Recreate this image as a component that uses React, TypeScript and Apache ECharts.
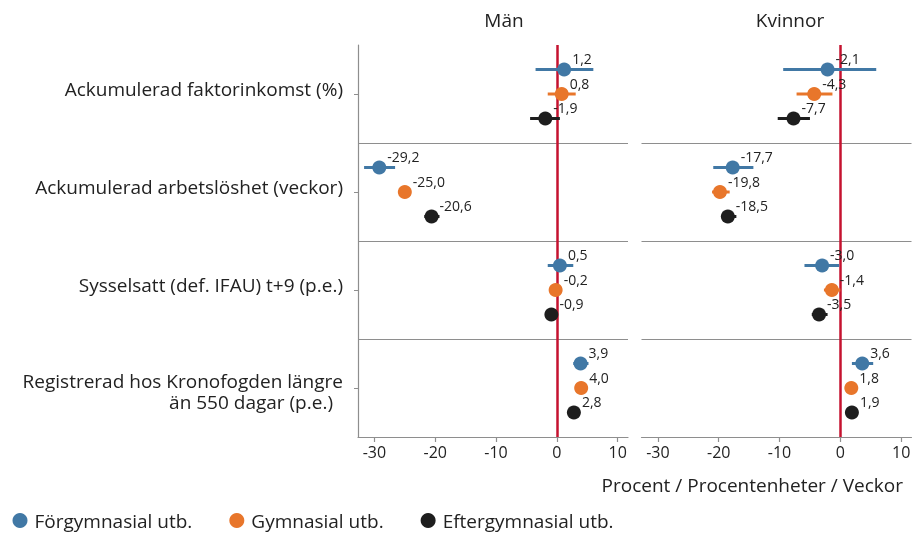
import React, { useEffect, useRef } from "react";
import * as echarts from "echarts";

const categories = [
  "Ackumulerad faktorinkomst (%)",
  "Ackumulerad arbetslöshet (veckor)",
  "Sysselsatt (def. IFAU) t+9 (p.e.)",
  "Registrerad hos Kronofogden längre\nän 550 dagar (p.e.)",
];
const panels = ["Män", "Kvinnor"];
const levelNames = ["Förgymnasial utb.", "Gymnasial utb.", "Eftergymnasial utb."];
const xTicks = [-30, -20, -10, 0, 10];

// Män
const menPre = [1.2, -29.2, 0.5, 3.9];
const menPreLo = [-3.5, -31.7, -1.5, 2.7];
const menPreHi = [6.0, -26.6, 2.7, 5.2];
const menGym = [0.8, -25.0, -0.2, 4.0];
const menGymLo = [-1.5, -25.8, -0.9, 3.2];
const menGymHi = [3.1, -24.2, 0.5, 4.8];
const menPost = [-1.9, -20.6, -0.9, 2.8];
const menPostLo = [-4.4, -21.8, -1.6, 2.1];
const menPostHi = [0.5, -19.3, -0.2, 3.5];

// Kvinnor
const womPre = [-2.1, -17.7, -3.0, 3.6];
const womPreLo = [-9.4, -20.9, -5.9, 1.9];
const womPreHi = [5.9, -14.3, -0.2, 5.4];
const womGym = [-4.3, -19.8, -1.4, 1.8];
const womGymLo = [-7.2, -21.1, -2.7, 1.1];
const womGymHi = [-1.3, -18.2, 0.0, 2.5];
const womPost = [-7.7, -18.5, -3.5, 1.9];
const womPostLo = [-10.3, -19.6, -4.7, 1.2];
const womPostHi = [-5.0, -17.1, -2.1, 2.6];

const FONT = "Open Sans";
const COLORS = ["#4178a5", "#e8762b", "#1e1e1e"];
const GRAY = "#8e8e8e";
const RED = "#c5122f";

const fmt = (v: number) => v.toFixed(1).replace(".", ",");

export default function App() {
  const ref = useRef<HTMLDivElement>(null);
  useEffect(() => {
    if (!ref.current) return;
    const chart = echarts.init(ref.current, undefined, { renderer: "svg" });

    const panelData = [
      [
        [menPre, menPreLo, menPreHi],
        [menGym, menGymLo, menGymHi],
        [menPost, menPostLo, menPostHi],
      ],
      [
        [womPre, womPreLo, womPreHi],
        [womGym, womGymLo, womGymHi],
        [womPost, womPostLo, womPostHi],
      ],
    ];
    const offsets = [0.75, 1.5, 2.25];
    const valueYAxisIndex = [0, 2];

    const series: any[] = [];
    panelData.forEach((levels, p) => {
      levels.forEach(([vals, lo, hi], l) => {
        series.push({
          type: "custom",
          name: levelNames[l],
          xAxisIndex: p,
          yAxisIndex: valueYAxisIndex[p],
          z: 3,
          data: vals.map((_, i) => [lo[i], hi[i], 3 * i + offsets[l]]),
          encode: { x: [0, 1], y: 2 },
          renderItem: (params: any, api: any) => {
            const a = api.coord([api.value(0), api.value(2)]);
            const b = api.coord([api.value(1), api.value(2)]);
            return {
              type: "line",
              shape: { x1: a[0], y1: a[1], x2: b[0], y2: b[1] },
              style: { stroke: COLORS[l], lineWidth: 3 },
            };
          },
        });
        series.push({
          type: "scatter",
          name: levelNames[l],
          xAxisIndex: p,
          yAxisIndex: valueYAxisIndex[p],
          z: 4,
          symbol: "circle",
          symbolSize: 14,
          itemStyle: { color: COLORS[l], opacity: 1 },
          data: vals.map((v, i) => [v, 3 * i + offsets[l]]),
          label: {
            show: true,
            position: "right",
            distance: 1,
            offset: [0, -11],
            fontFamily: FONT,
            fontSize: 14,
            color: "#222",
            formatter: (pp: any) => fmt(pp.value[0]),
          },
          markLine:
            l === 0
              ? {
                  silent: true,
                  symbol: "none",
                  z: 2,
                  label: { show: false },
                  emphasis: { disabled: true },
                  data: [
                    { yAxis: 3, lineStyle: { color: GRAY, width: 1.2, type: "solid" } },
                    { yAxis: 6, lineStyle: { color: GRAY, width: 1.2, type: "solid" } },
                    { yAxis: 9, lineStyle: { color: GRAY, width: 1.2, type: "solid" } },
                    { xAxis: 0, lineStyle: { color: RED, width: 2.5, type: "solid" } },
                  ],
                }
              : undefined,
        });
      });
    });

    const xAxisCommon = (gridIndex: number) => ({
      type: "value",
      gridIndex,
      position: "bottom",
      min: -32.7,
      max: 11.7,
      splitLine: { show: false },
      axisLine: { show: true, onZero: false, lineStyle: { color: GRAY, width: 1.2 } },
      axisTick: {
        show: true,
        length: 5,
        lineStyle: { color: GRAY, width: 1.2 },
        customValues: xTicks,
      },
      axisLabel: {
        fontFamily: FONT,
        fontSize: 16,
        color: "#222",
        margin: 7,
        customValues: xTicks,
        formatter: (v: number) => String(v),
      },
    });

    const option: any = {
      animation: false,
      title: panels.map((t, p) => ({
        text: t,
        left: p === 0 ? 499 : 785,
        top: 5,
        textAlign: "center",
        textStyle: { fontFamily: FONT, fontSize: 19, fontWeight: "normal", color: "#222" },
      })),
      legend: {
        left: 7.5,
        top: 506,
        itemGap: 37,
        itemWidth: 19,
        itemHeight: 15,
        textStyle: { fontFamily: FONT, fontSize: 19, color: "#222" },
        data: levelNames.map((n, l) => ({ name: n, icon: "circle", itemStyle: { color: COLORS[l] } })),
      },
      grid: [
        { left: 358, width: 270, top: 45, height: 392 },
        { left: 641.5, width: 270, top: 45, height: 392 },
      ],
      xAxis: [xAxisCommon(0), xAxisCommon(1)],
      yAxis: [
        { type: "value", gridIndex: 0, min: 0, max: 12, inverse: true, show: false },
        {
          type: "category",
          gridIndex: 0,
          position: "left",
          inverse: true,
          data: categories,
          axisLine: { show: true, onZero: false, lineStyle: { color: GRAY, width: 1.2 } },
          axisTick: { show: true, length: 4, alignWithLabel: true, lineStyle: { color: GRAY } },
          splitLine: { show: false },
          axisLabel: {
            margin: 15,
            fontFamily: FONT,
            fontSize: 19,
            color: "#222",
            align: "right",
            formatter: (v: string) => {
              const lines = v.split("\n");
              if (lines.length === 1) return "{s|" + v + "}\n{g1| }";
              return "{g2| }\n{t1|" + lines[0] + "}\n{t2|" + lines[1] + "}";
            },
            rich: {
              s: { fontFamily: FONT, fontSize: 19, color: "#222", lineHeight: 21 },
              g1: { fontSize: 1, lineHeight: 10 },
              g2: { fontSize: 1, lineHeight: 6 },
              t1: { fontFamily: FONT, fontSize: 19, color: "#222", lineHeight: 21 },
              t2: { fontFamily: FONT, fontSize: 19, color: "#222", lineHeight: 21, padding: [0, 10, 0, 0] },
            },
          },
        },
        { type: "value", gridIndex: 1, min: 0, max: 12, inverse: true, show: false },
      ],
      graphic: [
        {
          type: "text",
          right: 11,
          top: 475,
          style: {
            text: "Procent / Procentenheter / Veckor",
            fontFamily: FONT,
            fontSize: 19,
            fill: "#222",
          },
        },
      ],
      series,
    };

    chart.setOption(option);
    return () => chart.dispose();
  }, []);

  return <div ref={ref} style={{ position: "fixed", left: 0, top: 0, width: 914, height: 534 }} />;
}
